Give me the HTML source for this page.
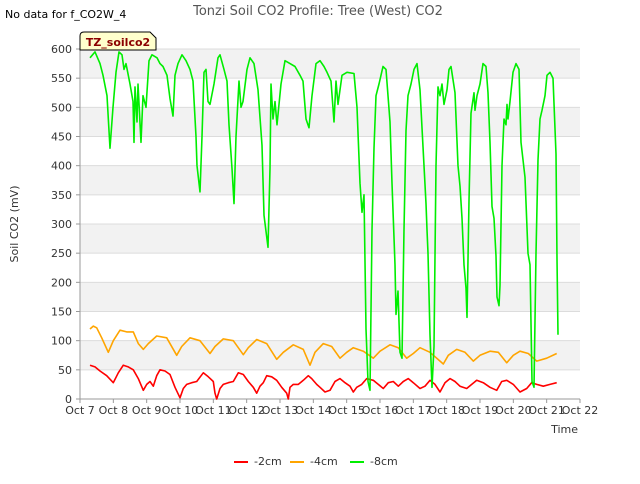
<!DOCTYPE html>
<html><head><meta charset="utf-8"><style>
body{margin:0;background:#fff;font-family:"DejaVu Sans","Liberation Sans",sans-serif;}
svg text{font-family:"DejaVu Sans","Liberation Sans",sans-serif;}
</style></head><body>
<svg id="c" width="640" height="480" xmlns="http://www.w3.org/2000/svg">
<rect width="640" height="480" fill="#fff"/>
<text x="5" y="18" font-size="11" fill="#000">No data for f_CO2W_4</text>
<text x="318" y="15" font-size="13" fill="#555" text-anchor="middle">Tonzi Soil CO2 Profile: Tree (West) CO2</text>
<g id="bands"></g>
<g id="grid"></g>
<g id="axes"></g>
<g id="series"></g>
<g>
<path d="M80,50 L80,36 Q80,32 84,32 L150,32 L156,38 L156,50 Z" fill="#ffffcc" stroke="#000" stroke-width="1"/>
<text x="118" y="46" font-size="11" font-weight="bold" fill="#8b0000" text-anchor="middle">TZ_soilco2</text>
</g>
<text x="18" y="224" font-size="11" fill="#333" text-anchor="middle" transform="rotate(-90 18 224)">Soil CO2 (mV)</text>
<text x="578" y="433" font-size="11" fill="#333" text-anchor="end">Time</text>
<g id="legend"></g>
</svg>
<script>
const yTicks=[0,50,100,150,200,250,300,350,400,450,500,550,600];
const xTickLabels=["Oct 7","Oct 8","Oct 9","Oct 10","Oct 11","Oct 12","Oct 13","Oct 14","Oct 15","Oct 16","Oct 17","Oct 18","Oct 19","Oct 20","Oct 21","Oct 22"];
const seriesNames=["-2cm","-4cm","-8cm"];
const seriesColors=["#ff0000","#ffa500","#00ee00"];
const redDays=[0.3,0.45,0.6,0.8,1.0,1.15,1.3,1.45,1.6,1.75,1.9,2.0,2.1,2.2,2.3,2.4,2.55,2.7,2.85,3.0,3.1,3.2,3.35,3.5,3.7,3.85,4.0,4.05,4.1,4.2,4.3,4.45,4.6,4.75,4.9,5.05,5.2,5.3,5.4,5.5,5.6,5.75,5.9,6.05,6.2,6.25,6.3,6.4,6.55,6.7,6.85,6.95,7.1,7.2,7.35,7.5,7.65,7.8,7.95,8.1,8.2,8.3,8.45,8.6,8.8,8.95,9.1,9.25,9.4,9.55,9.7,9.85,10.0,10.2,10.35,10.5,10.65,10.8,10.95,11.1,11.25,11.4,11.6,11.75,11.9,12.1,12.3,12.5,12.65,12.8,13.0,13.2,13.4,13.55,13.7,13.9,14.1,14.3];
const redVals=[58,55,48,40,28,45,58,55,50,35,15,25,30,22,40,50,48,42,20,2,18,25,28,30,45,38,30,10,0,18,25,28,30,45,42,30,20,10,22,28,40,38,32,20,10,0,20,25,25,32,40,35,25,20,12,15,30,35,28,22,12,20,25,35,32,25,18,28,30,22,30,35,28,18,22,32,25,12,28,35,30,22,18,25,32,28,20,15,30,32,25,12,18,28,25,22,25,28];
const orangeDays=[0.3,0.4,0.5,0.65,0.85,1.0,1.2,1.4,1.6,1.75,1.9,2.05,2.3,2.6,2.9,3.05,3.3,3.6,3.9,4.05,4.3,4.6,4.9,5.05,5.3,5.6,5.9,6.1,6.4,6.7,6.9,7.05,7.3,7.55,7.8,8.0,8.2,8.5,8.8,9.0,9.3,9.55,9.8,10.0,10.2,10.5,10.9,11.05,11.3,11.55,11.8,12.0,12.3,12.55,12.8,13.0,13.2,13.45,13.7,14.0,14.3];
const orangeVals=[120,125,122,105,80,100,118,115,115,95,85,95,108,105,75,90,105,100,78,90,103,100,76,88,102,95,68,80,93,85,58,80,95,90,70,80,88,82,70,82,93,88,70,78,88,80,60,75,85,80,65,75,82,80,62,75,82,78,65,70,78];
const greenDays=[0.3,0.45,0.6,0.69,0.81,0.9,0.99,1.08,1.17,1.26,1.32,1.38,1.5,1.59,1.62,1.65,1.71,1.74,1.83,1.89,1.98,2.07,2.16,2.31,2.4,2.49,2.61,2.7,2.79,2.85,2.94,3.06,3.18,3.3,3.39,3.48,3.51,3.6,3.66,3.72,3.78,3.84,3.9,4.02,4.14,4.2,4.32,4.41,4.47,4.56,4.62,4.68,4.77,4.83,4.89,5.01,5.1,5.22,5.34,5.46,5.52,5.64,5.7,5.73,5.79,5.85,5.91,6.03,6.15,6.3,6.45,6.6,6.69,6.78,6.87,6.96,7.08,7.2,7.32,7.41,7.53,7.62,7.68,7.74,7.86,8.01,8.22,8.31,8.4,8.46,8.52,8.58,8.64,8.7,8.76,8.82,8.88,8.97,9.09,9.18,9.3,9.36,9.45,9.48,9.54,9.6,9.66,9.72,9.78,9.84,9.93,10.02,10.11,10.2,10.26,10.32,10.38,10.41,10.44,10.5,10.56,10.62,10.68,10.74,10.8,10.86,10.92,11.01,11.07,11.13,11.25,11.34,11.4,11.46,11.52,11.58,11.61,11.67,11.73,11.82,11.85,11.91,12.0,12.09,12.18,12.24,12.3,12.36,12.42,12.48,12.51,12.57,12.6,12.66,12.72,12.78,12.81,12.84,12.9,12.99,13.08,13.17,13.23,13.29,13.35,13.44,13.5,13.56,13.62,13.68,13.74,13.8,13.86,13.95,14.01,14.1,14.19,14.28,14.31,14.34];
const greenVals=[585,595,575,555,520,430,500,560,595,590,565,575,540,510,440,535,475,540,440,520,500,580,590,585,575,570,555,515,485,555,575,590,580,565,545,450,400,355,450,560,565,510,505,540,585,590,565,545,470,395,335,450,545,500,510,565,585,575,530,435,315,260,395,540,480,510,470,540,580,575,570,555,545,480,465,520,575,580,570,560,545,475,545,505,555,560,558,500,370,320,350,120,30,15,290,430,520,540,570,565,475,370,230,145,185,80,70,290,460,520,540,565,575,530,465,400,335,290,250,110,20,90,400,535,520,540,505,530,565,570,525,400,365,310,230,190,140,340,490,525,495,520,540,575,570,525,440,330,310,245,175,160,195,400,480,470,505,480,510,560,575,565,440,410,380,250,230,30,20,250,410,480,495,520,555,560,550,420,240,110];

const NS="http://www.w3.org/2000/svg";
const X0=80,X1=580,Y0=399,Y1=49;
function xs(d){return X0+d*(X1-X0)/15;}
function ys(v){return Y0-v*(Y0-Y1)/600;}
function mk(tag,attrs,parent){const e=document.createElementNS(NS,tag);for(const k in attrs)e.setAttribute(k,attrs[k]);parent.appendChild(e);return e;}
const bands=document.getElementById('bands'),grid=document.getElementById('grid'),axes=document.getElementById('axes'),series=document.getElementById('series'),legend=document.getElementById('legend');
for(let i=0;i<yTicks.length-1;i++){
  if(i%2===1){const r=mk('rect',{x:X0,y:ys(yTicks[i+1]),width:X1-X0,height:ys(yTicks[i])-ys(yTicks[i+1]),fill:'#f2f2f2'},bands);
  
  }
}
yTicks.forEach(v=>{
  const l=mk('line',{x1:X0,x2:X1,y1:ys(v),y2:ys(v),stroke:'#dcdcdc','stroke-width':1},grid);
  
  
  const t=mk('text',{x:X0-8,y:ys(v)+4,'font-size':11,fill:'#333','text-anchor':'end'},axes);
  t.textContent=v;
  
  
  mk('line',{x1:X0-4,x2:X0,y1:ys(v),y2:ys(v),stroke:'#999'},axes);
});
xTickLabels.forEach((s,i)=>{
  mk('line',{x1:xs(i),x2:xs(i),y1:Y0,y2:Y0+4,stroke:'#999'},axes);
  const t=mk('text',{x:xs(i),y:Y0+15,'font-size':11,fill:'#333','text-anchor':'middle'},axes);
  t.textContent=s;
  
  
});
mk('line',{x1:X0,x2:X0,y1:Y1,y2:Y0,stroke:'#999'},axes);
mk('line',{x1:X0,x2:X1,y1:Y0,y2:Y0,stroke:'#999'},axes);
const allDays=[redDays,orangeDays,greenDays],allVals=[redVals,orangeVals,greenVals];
for(let s=0;s<3;s++){
  let d='';
  allDays[s].forEach((dd,i)=>{d+=(i?'L':'M')+xs(dd).toFixed(1)+','+ys(allVals[s][i]).toFixed(1);});
  const p=mk('path',{d:d,fill:'none',stroke:seriesColors[s],'stroke-width':1.6,'stroke-linejoin':'round'},series);
  
  
}
const lx=[234,290,350];
seriesNames.forEach((n,i)=>{
  const g=mk('g',{},legend);
  
  
  mk('line',{x1:lx[i],x2:lx[i]+14,y1:462,y2:462,stroke:seriesColors[i],'stroke-width':2},g);
  const t=mk('text',{x:lx[i]+20,y:465,'font-size':11,fill:'#333'},g);
  t.textContent=n;
});
</script>
</body></html>
